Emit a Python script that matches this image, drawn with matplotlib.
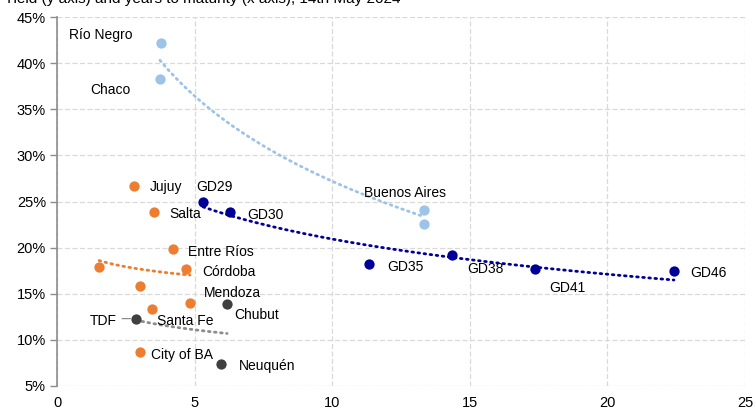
import numpy as np
import matplotlib
matplotlib.use("Agg")
import matplotlib.pyplot as plt

plt.rcParams['font.family'] = ['Liberation Sans', 'DejaVu Sans']

# provinces: years to maturity / yield (%)
lb_names = ["Río Negro", "Chaco", "Buenos Aires", ""]
lb_x = [3.78, 3.74, 13.34, 13.34]
lb_y = [42.2, 38.3, 24.1, 22.6]

or_names = ["", "Jujuy", "Salta", "Entre Ríos", "Córdoba", "", "Santa Fe", "Mendoza", "City of BA"]
or_x = [1.53, 2.80, 3.52, 4.22, 4.69, 3.02, 3.44, 4.83, 3.02]
or_y = [17.9, 26.7, 23.9, 19.85, 17.7, 15.8, 13.4, 14.0, 8.7]

gr_names = ["TDF", "Chubut", "Neuquén"]
gr_x = [2.87, 6.18, 5.96]
gr_y = [12.3, 13.9, 7.4]

# sovereign bonds
gd_names = ["GD29", "GD30", "GD35", "GD38", "GD41", "GD46"]
gd_x = [5.31, 6.29, 11.34, 14.35, 17.37, 22.42]
gd_y = [25.0, 23.86, 18.2, 19.2, 17.7, 17.5]

# label placement offsets (in points) per point
lb_off = [(-66, 6), (-50, -8), (-43, 12), (0, 0)]
or_off = [(0, 0), (11, -1), (11, -2), (11, -2), (12, -2.5), (0, 0), (4, -9), (10, 7.5), (8, -2)]
gr_off = [(-33, -2), (5, -8), (13, -1.5)]
gd_off = [(-5, 10.5), (12, -2), (13, -2), (11, -10), (10, -14), (12, -2)]

c_lb = "#9DC3E6"
c_or = "#ED7D31"
c_gr = "#404040"
c_gd = "#000099"

fig = plt.figure(figsize=(7.56, 4.15), dpi=100)
ax = fig.add_axes([0.0754, 0.0699, 0.9100, 0.8891])


def log_trend(x, y):
    # excel style logarithmic trendline
    x = np.array(x)
    b, a = np.polyfit(np.log(x), np.array(y), 1)
    xs = np.linspace(x.min(), x.max(), 100)
    return xs, a + b * np.log(xs)


groups = [
    (lb_x, lb_y, lb_names, lb_off, c_lb, c_lb),
    (or_x, or_y, or_names, or_off, c_or, c_or),
    (gr_x, gr_y, gr_names, gr_off, c_gr, "#8C8C8C"),
    (gd_x, gd_y, gd_names, gd_off, c_gd, c_gd),
]

for xs, ys, names, offs, col, tcol in groups:
    tx, ty = log_trend(xs, ys)
    ax.plot(tx, ty, color=tcol, lw=2.0, ls=(0, (0.6, 1.6)),
            dash_capstyle='round', zorder=2)
    ax.scatter(xs, ys, s=55, color=col, zorder=3, linewidths=0)
    for n, x, y, o in zip(names, xs, ys, offs):
        if n:
            ax.annotate(n, (x, y), xytext=o, textcoords='offset points',
                        fontsize=10, color="#000000", ha='left', va='center')

# leader line for TDF
ax.annotate("", (gr_x[0], gr_y[0]), xytext=(-10, 0), textcoords='offset points',
            arrowprops=dict(arrowstyle='-', color='#7F7F7F', lw=0.8, shrinkA=0, shrinkB=4))

ax.set_xlim(0, 25)
ax.set_ylim(5, 45)
ax.set_xticks(np.arange(0, 26, 5))
ax.set_yticks(np.arange(5, 46, 5))
ax.set_yticklabels([f"{v}%" for v in range(5, 46, 5)])
ax.tick_params(axis='both', labelsize=10.5, colors='#000000')
ax.tick_params(axis='x', length=0, pad=7)
ax.tick_params(axis='y', length=5, width=1, color='#8C8C8C', pad=3)
ax.grid(True, color='#D9D9D9', ls=(0, (4, 2)), lw=0.9)
ax.set_axisbelow(True)
for s in ['top', 'right', 'bottom']:
    ax.spines[s].set_visible(False)
ax.spines['left'].set_color('#8C8C8C')
ax.spines['left'].set_linewidth(1.2)

fig.text(0.005, 1 - 3 / 415, "Yield (y axis) and years to maturity (x axis), 14th May 2024",
         fontsize=11, color='#000000', va='baseline')

fig.savefig("out.png", dpi=100)
